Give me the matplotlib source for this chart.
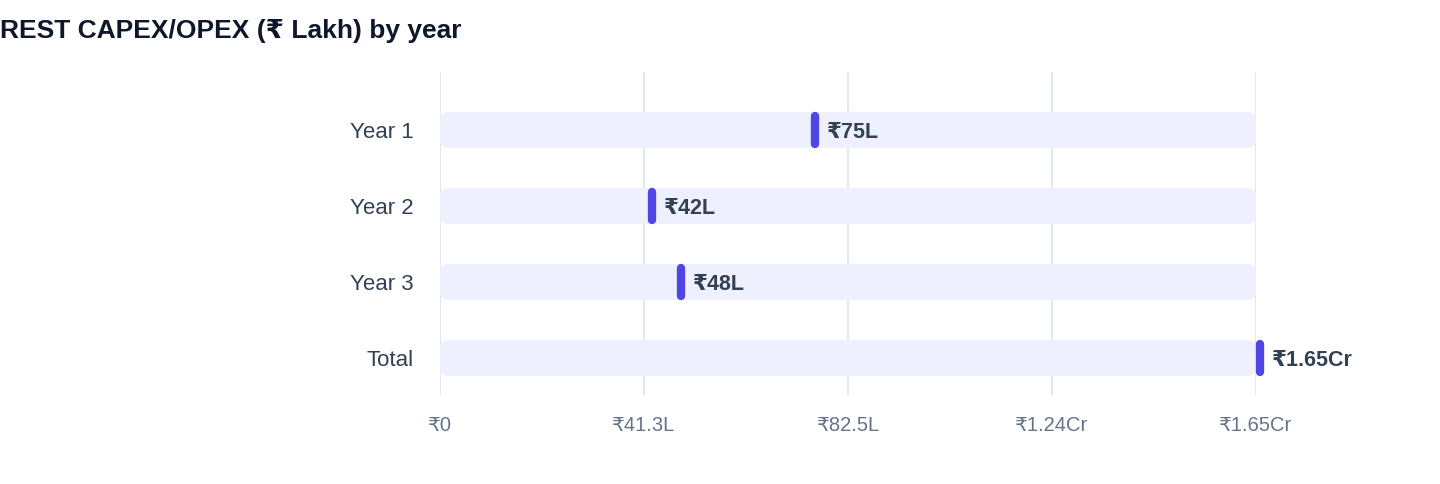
import matplotlib
matplotlib.use("Agg")
import matplotlib.pyplot as plt
from matplotlib.patches import FancyBboxPatch
from matplotlib.transforms import offset_copy

plt.rcParams['font.family'] = ['Liberation Sans', 'DejaVu Sans']

categories = ["Year 1", "Year 2", "Year 3", "Total"]
values = [75, 42, 48, 165]
value_labels = ["₹75L", "₹42L", "₹48L", "₹1.65Cr"]
x_max = 165
tick_values = [0, 41.25, 82.5, 123.75, 165]
tick_labels = ["₹0", "₹41.3L", "₹82.5L", "₹1.24Cr", "₹1.65Cr"]
title = "REST CAPEX/OPEX (₹ Lakh) by year"

W, H = 1440, 484
fig = plt.figure(figsize=(W / 100, H / 100), dpi=100)
left_px, right_px, top_px, bottom_px = 440, 1256, 72, 395
ax = fig.add_axes([left_px / W, 1 - bottom_px / H, (right_px - left_px) / W, (bottom_px - top_px) / H])

ax.set_xlim(0, x_max)
ax.set_ylim(3.487, -0.763)

px_per_x = (right_px - left_px) / x_max
px_per_y = 76.0
bar_h = 0.474
track_color = "#eef1fd"
marker_color = "#4f46e5"

for i, (cat, v) in enumerate(zip(categories, values)):
    patch = FancyBboxPatch((0, i - bar_h / 2), x_max, bar_h,
                           boxstyle="round,pad=0,rounding_size=%f" % (8 / px_per_x),
                           mutation_aspect=px_per_x / px_per_y,
                           facecolor=track_color, edgecolor="none", zorder=1)
    ax.add_patch(patch)
    tr = offset_copy(ax.transData, fig=fig, x=4, y=0, units='dots')
    ax.plot([v, v], [i - 0.184, i + 0.184], color=marker_color, lw=6,
            solid_capstyle='round', transform=tr, zorder=3, clip_on=False)
    trt = offset_copy(ax.transData, fig=fig, x=16, y=0, units='dots')
    ax.text(v, i, value_labels[i], transform=trt, ha='left', va='center_baseline',
            fontsize=15.5, fontweight='bold', color="#334155", zorder=4, clip_on=False)

ax.set_yticks(range(len(categories)))
ax.set_yticklabels(categories, fontsize=16, color="#334155")
ax.set_xticks(tick_values)
ax.set_xticklabels(tick_labels, fontsize=14.5, color="#64748b")
ax.tick_params(axis='x', length=0, pad=15)
ax.tick_params(axis='y', length=0, pad=19)
for s in ax.spines.values():
    s.set_visible(False)
ax.grid(axis='x', color="#e2e8f0", linewidth=1.5, zorder=0)
ax.set_axisbelow(True)

fig.text(0.0, 1 - 31 / H, title, ha='left', va='center', fontsize=19,
         fontweight='bold', color="#0f172a")

fig.savefig("out.png", dpi=100)
